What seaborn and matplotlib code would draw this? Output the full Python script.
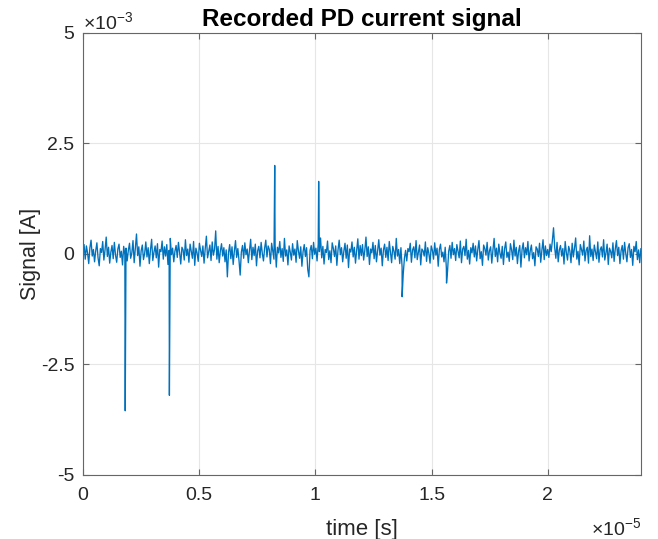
import numpy as np
import pandas as pd
import matplotlib
matplotlib.use("Agg")
import matplotlib.pyplot as plt
import seaborn as sns

# background noise of the PD current, in mA (approx.)
noise_ma = [
    0.05, 0.21, -0.12, 0.18, 0.02, -0.22, 0.14, 0.31, -0.05, 0.10, -0.18, 0.07, 0.25, -0.09, -0.27, 0.12, 0.03, 0.28, -0.14, 0.09,
    0.38, -0.06, 0.15, -0.21, 0.04, 0.19, -0.11, 0.26, -0.03, -0.19, 0.11, 0.22, -0.08, 0.06, -0.25, 0.17, -0.02, 0.13, -0.16, 0.08,
    0.24, -0.10, 0.02, 0.30, -0.20, 0.12, 0.45, -0.04, 0.16, -0.28, 0.07, 0.20, -0.13, 0.01, 0.27, -0.07, 0.14, -0.22, 0.09, 0.33,
    -0.15, 0.04, 0.18, -0.09, 0.23, -0.30, 0.10, 0.05, 0.29, -0.12, 0.16, -0.05, 0.21, -0.24, 0.08, 0.35, -0.02, 0.13, -0.18, 0.06,
    0.19, -0.08, 0.26, 0.03, -0.23, 0.15, 0.09, -0.14, 0.32, -0.04, 0.11, -0.19, 0.22, 0.06, -0.10, 0.28, -0.26, 0.13, 0.02, -0.17,
    0.24, 0.08, -0.06, 0.18, -0.21, 0.12, 0.40, -0.09, 0.05, 0.20, -0.15, 0.27, -0.03, 0.10, 0.52, -0.12, 0.17, -0.20, 0.07, 0.23,
    -0.05, 0.14, -0.18, 0.09, -0.52, 0.03, 0.21, -0.11, 0.16, -0.24, 0.06, 0.30, -0.08, 0.12, -0.15, -0.48, 0.04, 0.19, -0.10, 0.25,
    -0.02, 0.11, -0.20, 0.08, 0.33, -0.13, 0.15, -0.04, 0.22, -0.27, 0.07, 0.17, -0.09, 0.26, 0.01, -0.16, 0.13, 0.31, -0.07, 0.18,
    0.10, -0.22, 0.24, 0.06, -0.12, 0.20, -0.30, 0.15, 0.02, 0.28, -0.08, 0.12, -0.17, 0.35, -0.05, 0.09, -0.25, 0.18, 0.04, -0.14,
    0.23, -0.03, 0.11, -0.19, 0.30, 0.07, -0.10, 0.16, -0.28, 0.05, 0.21, -0.06, 0.14, -0.35, -0.52, 0.08, 0.19, -0.11, 0.26, -0.01,
    0.13, -0.16, 0.22, 0.05, 0.36, -0.09, 0.17, -0.23, 0.10, 0.03, 0.29, -0.13, 0.07, -0.20, 0.25, 0.12, -0.06, 0.18, -0.26, 0.09,
    0.31, -0.02, 0.14, -0.18, 0.06, 0.24, -0.10, 0.20, -0.31, 0.11, 0.04, 0.27, -0.07, 0.15, -0.21, 0.08, 0.34, -0.12, 0.19, -0.04,
    0.21, -0.14, 0.08, 0.38, -0.06, 0.16, -0.24, 0.11, 0.02, 0.26, -0.11, 0.19, -0.18, 0.07, 0.32, -0.03, 0.13, -0.27, 0.09, 0.22,
    -0.08, 0.15, -0.15, 0.28, 0.04, -0.20, 0.17, 0.06, -0.12, 0.35, -0.05, 0.10, -0.22, 0.14, -0.30, -0.45, -0.10, 0.08, -0.16, 0.12,
    0.05, 0.24, -0.19, 0.09, 0.16, -0.09, 0.30, -0.13, 0.03, 0.20, -0.25, 0.11, 0.07, -0.05, 0.27, -0.17, 0.14, 0.01, -0.21, 0.18,
    0.08, -0.12, 0.25, -0.03, 0.13, -0.28, 0.10, 0.22, -0.07, 0.04, -0.18, 0.15, -0.32, -0.40, 0.06, 0.19, -0.10, 0.26, -0.02, 0.12,
    -0.15, 0.21, 0.06, -0.09, 0.29, -0.20, 0.11, 0.17, -0.04, 0.33, -0.12, 0.08, -0.23, 0.14, 0.02, 0.24, -0.07, 0.18, -0.16, 0.10,
    0.30, -0.11, 0.05, -0.26, 0.20, 0.12, -0.03, 0.26, -0.14, 0.07, 0.16, -0.21, 0.09, 0.35, -0.06, 0.13, -0.18, 0.22, 0.01, -0.10,
    0.17, -0.24, 0.12, 0.27, -0.08, 0.04, -0.17, 0.23, 0.09, -0.13, 0.31, -0.05, 0.15, -0.22, 0.06, 0.19, -0.30, 0.10, 0.25, -0.09,
    0.14, -0.02, 0.28, -0.16, 0.07, 0.20, -0.11, 0.03, -0.27, 0.16, 0.11, -0.06, 0.24, -0.19, 0.08, 0.32, -0.13, 0.18, -0.04, 0.10,
    -0.08, 0.22, 0.05, 0.30, 0.59, 0.14, -0.10, 0.26, -0.18, 0.09, 0.19, -0.05, 0.12, -0.23, 0.28, 0.03, -0.14, 0.17, 0.07, -0.20,
    0.24, -0.07, 0.13, 0.36, -0.12, 0.06, -0.25, 0.21, 0.10, -0.03, 0.29, -0.16, 0.08, 0.15, -0.21, 0.41, -0.06, 0.11, -0.15, 0.20,
    0.04, -0.11, 0.27, -0.19, 0.09, 0.16, -0.07, 0.32, -0.14, 0.02, 0.22, -0.24, 0.13, 0.06, -0.09, 0.25, -0.17, 0.11, 0.30, -0.04,
    0.15, -0.22, 0.07, 0.19, -0.12, 0.26, 0.01, -0.18, 0.14, 0.23, -0.08, 0.10, -0.26, 0.17, 0.05, 0.28, -0.13, 0.09, -0.20, 0.12,
]
t_end = 2.4e-5

# PD pulses: time in units of 1e-5 s, amplitude in mA
pulse_t = [0.182, 0.372, 0.825, 1.014, 1.373, 1.564]
pulse_ma = [-3.55, -3.20, 2.00, 1.64, -0.97, -0.66]

x_ticks = [0, 0.5, 1, 1.5, 2]
y_ticks = [-5, -2.5, 0, 2.5, 5]

sns.set_theme(style="whitegrid")
plt.rcParams['font.family'] = ['Liberation Sans', 'DejaVu Sans']
plt.rcParams['mathtext.fontset'] = 'custom'
plt.rcParams['mathtext.rm'] = 'Liberation Sans'

noise_df = pd.DataFrame({"time": np.linspace(0, t_end, len(noise_ma)),
                         "signal": np.array(noise_ma) * 1e-3})
pulse_df = pd.DataFrame({"time": np.array(pulse_t) * 1e-5,
                         "signal": np.array(pulse_ma) * 1e-3})
df = pd.concat([noise_df, pulse_df]).sort_values("time").reset_index(drop=True)

fig = plt.figure(figsize=(6.58, 5.39), dpi=100)
ax = fig.add_axes([0.126, 0.119, 0.848, 0.820])

sns.lineplot(data=df, x="time", y="signal", estimator=None, sort=False,
             color="#0072BD", linewidth=0.95, ax=ax)

ax.set_xlim(0, t_end)
ax.set_ylim(-5e-3, 5e-3)
ax.set_xticks([v * 1e-5 for v in x_ticks])
ax.set_xticklabels([f"{v:g}" for v in x_ticks])
ax.set_yticks([v * 1e-3 for v in y_ticks])
ax.set_yticklabels([f"{v:g}" for v in y_ticks])

ax.grid(True, color="#e6e6e6", linewidth=0.8)
ax.set_facecolor("white")
for s in ax.spines.values():
    s.set_color("#666666")
    s.set_linewidth(0.8)
ax.tick_params(direction="in", length=4, width=0.8, colors="#666666",
               labelcolor="#262626", labelsize=14, top=True, right=True,
               bottom=True, left=True)
ax.tick_params(axis="x", pad=9)
ax.tick_params(axis="y", pad=6)

ax.set_xlabel("time [s]", fontsize=16, color="#262626", va="top")
ax.xaxis.set_label_coords(0.5, -0.099)
ax.set_ylabel("Signal [A]", fontsize=15.5, color="#262626", va="bottom")
ax.yaxis.set_label_coords(-0.075, 0.5)
ax.set_title("Recorded PD current signal", fontsize=17.5, fontweight="bold",
             color="black", pad=5)

ax.text(0.0, 1.008, r"$\mathregular{\times10^{-3}}$", transform=ax.transAxes,
        ha="left", va="baseline", fontsize=14, color="#262626")
ax.text(1.0, -0.136, r"$\mathregular{\times10^{-5}}$", transform=ax.transAxes,
        ha="right", va="baseline", fontsize=14, color="#262626")

fig.savefig("out.png", dpi=100, facecolor="white")
